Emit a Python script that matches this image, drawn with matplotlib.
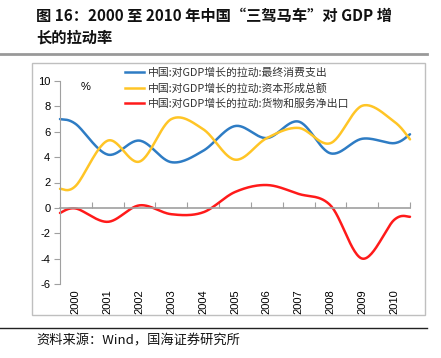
import numpy as np
import matplotlib
matplotlib.use("Agg")
import matplotlib.pyplot as plt
from matplotlib.patches import Rectangle
from matplotlib.lines import Line2D

plt.rcParams['font.family'] = ['Noto Sans CJK SC', 'DejaVu Sans']

# ---- data ----
years = ['2000', '2001', '2002', '2003', '2004', '2005', '2006', '2007', '2008', '2009', '2010']
# x positions: axis start, the 11 category centres, axis end
x_pos = [0.0] + [i + 0.5 for i in range(11)] + [11.0]
consumption = [7.0, 6.6, 4.2, 5.3, 3.6, 4.5, 6.45, 5.5, 6.8, 4.3, 5.45, 5.1, 5.8]
capital = [1.5, 1.75, 5.3, 3.65, 7.0, 6.2, 3.8, 5.5, 6.3, 5.1, 8.05, 6.8, 5.4]
net_exports = [-0.4, -0.05, -1.1, 0.2, -0.5, -0.35, 1.25, 1.8, 1.1, 0.2, -4.0, -0.95, -0.7]
series_names = ['中国:对GDP增长的拉动:最终消费支出',
                '中国:对GDP增长的拉动:资本形成总额',
                '中国:对GDP增长的拉动:货物和服务净出口']
colors = ['#2E7CC4', '#FFC526', '#FF1A1A']
yticks = [-6, -4, -2, 0, 2, 4, 6, 8, 10]

title1 = '图 16：2000 至 2010 年中国“三驾马车”对 GDP 增'
title2 = '长的拉动率'
source = '资料来源：Wind，国海证券研究所'


def smooth(xs, ys, n=30):
    P = np.column_stack([xs, ys]).astype(float)
    out = []
    for i in range(len(P) - 1):
        p0 = P[i - 1] if i > 0 else P[i]
        p1 = P[i]
        p2 = P[i + 1]
        p3 = P[i + 2] if i + 2 < len(P) else P[i + 1]
        c1 = p1 + (p2 - p0) / 6.0
        c2 = p2 - (p3 - p1) / 6.0
        t = np.linspace(0, 1, n)[:, None]
        seg = ((1 - t) ** 3) * p1 + 3 * ((1 - t) ** 2) * t * c1 + 3 * (1 - t) * t ** 2 * c2 + t ** 3 * p2
        out.append(seg if i == 0 else seg[1:])
    S = np.vstack(out)
    return S[:, 0], S[:, 1]


W, H = 441, 358
fig = plt.figure(figsize=(W / 100, H / 100), dpi=100)

# frame around chart
fig.patches.append(Rectangle((32 / W, 1 - 315 / H), (425 - 32) / W, (315 - 63) / H,
                             transform=fig.transFigure, fill=False, edgecolor='#BFBFBF', lw=1.0))
# rules
fig.add_artist(Line2D([0, 427 / W], [1 - 54 / H, 1 - 54 / H], color='#999999', lw=2.0, transform=fig.transFigure))
fig.add_artist(Line2D([0, 427 / W], [1 - 328 / H, 1 - 328 / H], color='#222222', lw=1.0, transform=fig.transFigure))

fig.text(36 / W, 1 - 16 / H, title1, fontsize=11, fontweight='bold', va='center', ha='left', color='#111111')
fig.text(36 / W, 1 - 38 / H, title2, fontsize=11, fontweight='bold', va='center', ha='left', color='#111111')
fig.text(36 / W, 1 - 341 / H, source, fontsize=9.5, va='center', ha='left', color='#111111')

left, right = 60 / W, 410 / W
bottom, top = 1 - 284 / H, 1 - 81 / H
ax = fig.add_axes([left, bottom, right - left, top - bottom])
ax.set_xlim(0, 11)
ax.set_ylim(-6, 10)

for ys, c in zip([consumption, capital, net_exports], colors):
    sx, sy = smooth(x_pos, ys)
    ax.plot(sx, sy, color=c, lw=1.8, solid_capstyle='round', clip_on=False)

for s in ['top', 'right']:
    ax.spines[s].set_visible(False)
ax.spines['left'].set_color('#A0A0A0')
ax.spines['bottom'].set_position(('data', 0))
ax.spines['bottom'].set_color('#A0A0A0')
ax.spines['bottom'].set_linewidth(1.2)
ax.set_yticks(yticks)
ax.set_yticklabels([str(v) for v in yticks], fontsize=8, family='Liberation Sans')
ax.set_xticks(range(12))
ax.set_xticklabels([])
ax.tick_params(axis='y', direction='out', length=4, color='#A0A0A0', pad=3)
ax.tick_params(axis='x', direction='in', length=4, color='#A0A0A0')
for i, yl in enumerate(years):
    ax.text(i + 0.5, -6.4, yl, rotation=90, ha='center', va='top', fontsize=8,
            family='Liberation Sans', clip_on=False)

ax.text(0.8, 9.5, '%', fontsize=8, family='Liberation Sans', ha='center', va='center')
ax.patch.set_visible(False)

handles = [Line2D([], [], color=c, lw=1.8) for c in colors]
leg = ax.legend(handles, series_names, loc='upper left', bbox_to_anchor=(0.185, 1.065),
                frameon=False, fontsize=7.8, handlelength=1.8, handletextpad=0.3,
                labelspacing=0.45, borderaxespad=0, borderpad=0)
for t in leg.get_texts():
    t.set_color('#333333')

fig.savefig('out.png', dpi=100)
